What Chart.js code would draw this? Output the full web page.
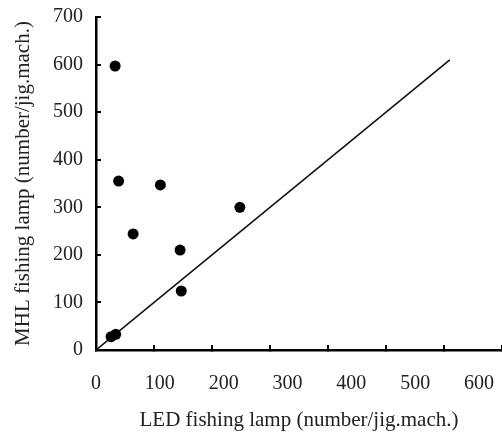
<!DOCTYPE html>
<html lang="en">
<head>
    <meta charset="UTF-8">
    <title>LED vs MHL fishing lamp</title>
    <script src="https://cdn.jsdelivr.net/npm/chart.js"></script>
    <style>
        html, body {
            margin: 0;
            padding: 0;
            background: #ffffff;
            overflow: hidden;
        }
        .chart-container {
            width: 502px;
            height: 436px;
        }
    </style>
</head>
<body>
    <div class="chart-container">
        <canvas id="scatterChart"></canvas>
    </div>

    <script>
        // catch per jigging machine, LED (x) vs MHL (y)
        const ledCatch = [33, 39, 111, 64, 145, 147, 248, 26, 34];
        const mhlCatch = [597, 355, 347, 244, 210, 124, 300, 28, 33];

        // 1:1 reference line
        const lineX = [0, 610];
        const lineY = [0, 610];

        // axis tick values
        const yTicks = [0, 100, 200, 300, 400, 500, 600, 700];
        const xTicks = [0, 100, 200, 300, 400, 500, 600, 700];
        const xLabels = [0, 100, 200, 300, 400, 500, 600];

        const serif = "'Liberation Serif', 'Times New Roman', serif";

        const points = ledCatch.map((x, i) => ({ x: x, y: mhlCatch[i] }));
        const linePoints = lineX.map((x, i) => ({ x: x, y: lineY[i] }));

        // fixed axis box sizes, and labels should not push the plot area inwards
        function fixBox(size) {
            return function(scale) {
                scale.paddingLeft = 0;
                scale.paddingRight = 0;
                scale.paddingTop = 0;
                scale.paddingBottom = 0;
                if (scale.isHorizontal()) {
                    scale.height = size;
                } else {
                    scale.width = size;
                }
            };
        }

        const ctx = document.getElementById('scatterChart').getContext('2d');
        new Chart(ctx, {
            type: 'scatter',
            data: {
                datasets: [{
                    label: 'catch',
                    data: points,
                    backgroundColor: '#000000',
                    borderWidth: 0,
                    pointRadius: 5.5,
                    pointHoverRadius: 5.5
                }, {
                    type: 'line',
                    label: '1:1',
                    data: linePoints,
                    borderColor: '#111111',
                    borderWidth: 1.6,
                    pointRadius: 0,
                    fill: false
                }]
            },
            options: {
                responsive: true,
                maintainAspectRatio: false,
                animation: false,
                layout: {
                    autoPadding: false,
                    padding: { left: 7, top: 17, right: 0, bottom: 0 }
                },
                plugins: {
                    legend: { display: false },
                    tooltip: { enabled: false }
                },
                scales: {
                    // data axis: tick marks only (labels sit on their own axis below)
                    x: {
                        type: 'linear',
                        position: 'bottom',
                        min: 0,
                        max: 700,
                        afterBuildTicks: scale => { scale.ticks = xTicks.map(v => ({ value: v })); },
                        afterFit: fixBox(0),
                        ticks: { display: false },
                        grid: {
                            drawOnChartArea: false,
                            drawTicks: true,
                            tickLength: -5,
                            lineWidth: 2,
                            color: '#000000'
                        },
                        border: { display: true, color: '#000000', width: 2.5 }
                    },
                    xl: {
                        type: 'linear',
                        position: 'bottom',
                        weight: 1,
                        min: 0,
                        max: 636,
                        afterBuildTicks: scale => { scale.ticks = xLabels.map(v => ({ value: v })); },
                        afterFit: fixBox(86),
                        ticks: {
                            padding: 14,
                            color: '#222222',
                            font: { family: serif, size: 20 },
                            maxRotation: 0
                        },
                        grid: { display: false },
                        border: { display: false },
                        title: {
                            display: true,
                            text: 'LED fishing lamp (number/jig.mach.)',
                            color: '#222222',
                            font: { family: serif, size: 21 },
                            padding: { top: 4, bottom: 3.4 }
                        }
                    },
                    y: {
                        type: 'linear',
                        min: 0,
                        max: 700,
                        afterBuildTicks: scale => { scale.ticks = yTicks.map(v => ({ value: v })); },
                        afterFit: fixBox(89),
                        ticks: {
                            padding: 18,
                            color: '#222222',
                            font: { family: serif, size: 20 }
                        },
                        grid: {
                            drawOnChartArea: false,
                            drawTicks: true,
                            tickLength: -5,
                            lineWidth: 2,
                            color: '#000000'
                        },
                        border: { display: true, color: '#000000', width: 2.5 },
                        title: {
                            display: true,
                            text: 'MHL fishing lamp (number/jig.mach.)',
                            color: '#222222',
                            font: { family: serif, size: 21 },
                            padding: { top: 4, bottom: 4 }
                        }
                    }
                }
            }
        });
    </script>
</body>
</html>
